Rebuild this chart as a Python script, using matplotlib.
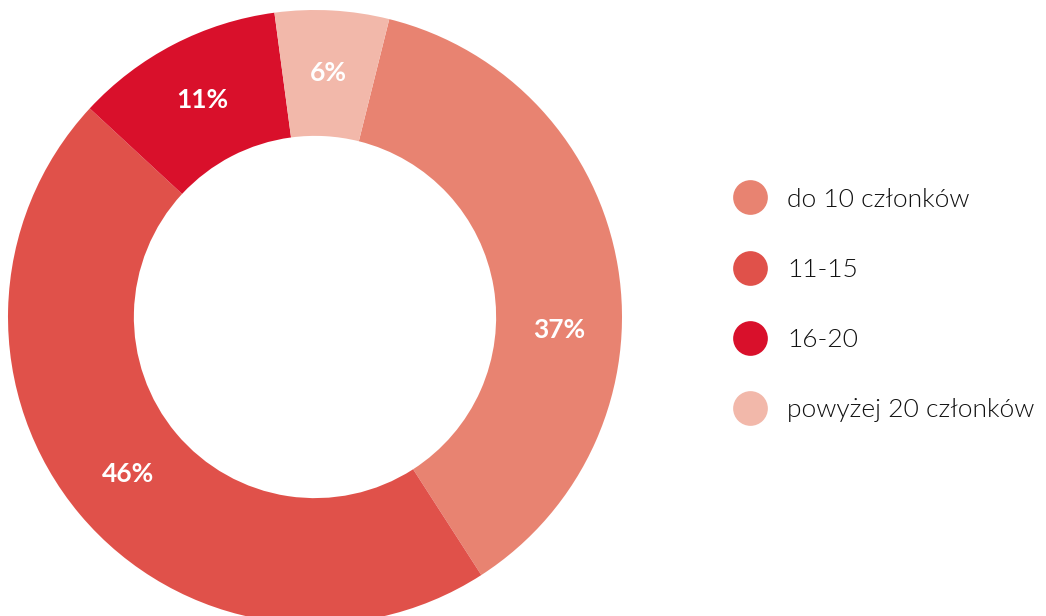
import numpy as np
import matplotlib.pyplot as plt
from matplotlib.lines import Line2D

categories = ["do 10 członków", "11-15", "16-20", "powyżej 20 członków"]
shares = [37, 46, 11, 6]
colors = ["#E88371", "#E0514A", "#D9102B", "#F2B8AA"]

plt.rcParams['font.family'] = ['Lato', 'DejaVu Sans']

fig = plt.figure(figsize=(10.46, 6.16), dpi=100)
W, H = 1046, 616
cx, cy, R = 315, 317, 307
ax = fig.add_axes([(cx - R) / W, (H - cy - R) / H, 2 * R / W, 2 * R / H])

wedges, texts, autotexts = ax.pie(
    shares, colors=colors, startangle=76, counterclock=False,
    radius=1.0, wedgeprops=dict(width=0.41, linewidth=0),
    autopct=lambda p: f"{p:.0f}%", pctdistance=0.795,
    textprops=dict(color="white", fontsize=19, fontweight="bold"))

# the first label sits a little lower in its wedge than the mid-angle
ang = np.deg2rad(-3)
autotexts[0].set_position((0.795 * np.cos(ang), 0.795 * np.sin(ang)))

ax.set_xlim(-1, 1)
ax.set_ylim(-1, 1)
ax.set_aspect("equal")
ax.axis("off")

handles = [Line2D([], [], marker="o", linestyle="none", markersize=25,
                  markerfacecolor=c, markeredgewidth=0) for c in colors]
leg = fig.legend(handles, categories, loc="center left",
                 bbox_to_anchor=(724 / W, 1 - 305 / H), frameon=False,
                 fontsize=19, labelspacing=1.75, handletextpad=0.8,
                 handlelength=1.2, borderaxespad=0)
for t in leg.get_texts():
    t.set_color("#111111")
    t.set_fontweight(300)

fig.savefig("out.png", dpi=100)
